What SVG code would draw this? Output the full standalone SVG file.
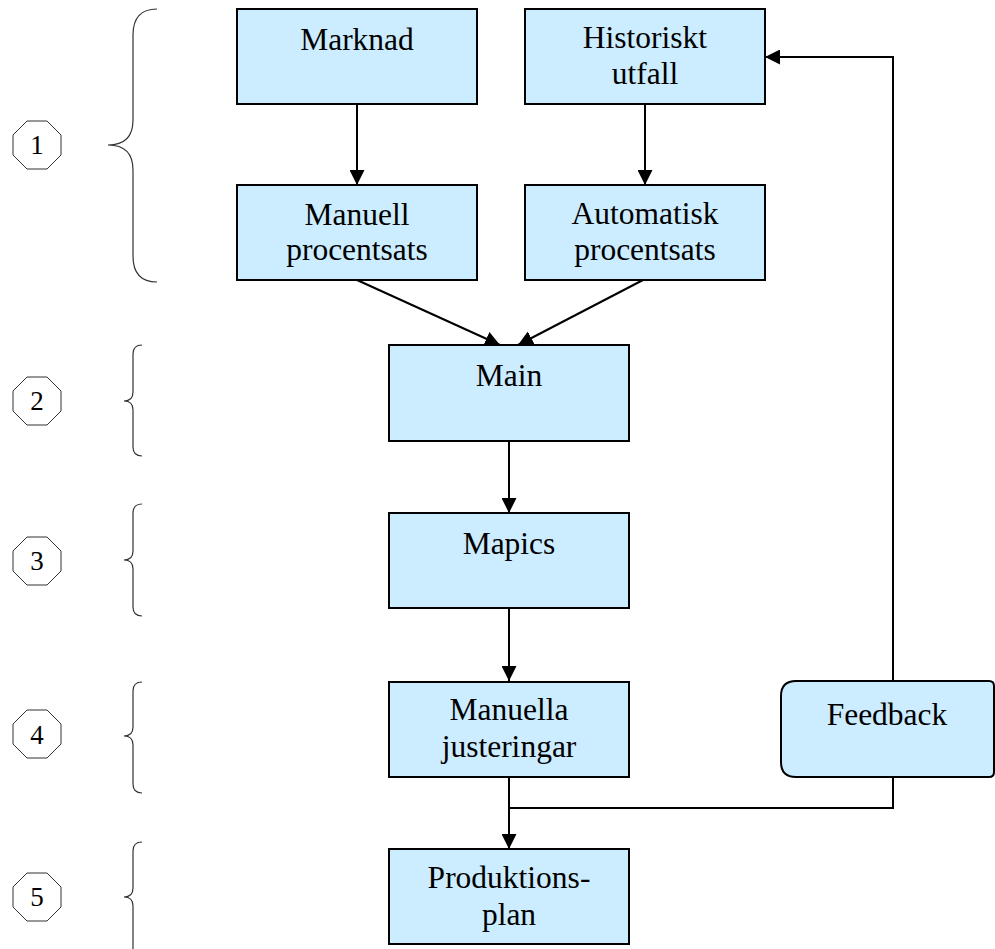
<svg xmlns="http://www.w3.org/2000/svg" width="995" height="949" viewBox="0 0 995 949">
<style>
.box{fill:#CCECFF;stroke:#000;stroke-width:2}
.t{font-family:"Liberation Serif","Times New Roman",serif;font-size:31.5px;fill:#000;text-anchor:middle}
.n{font-family:"Liberation Serif","Times New Roman",serif;font-size:27px;fill:#000;text-anchor:middle}
.oct{fill:#fff;stroke:#333;stroke-width:1}
.brace{fill:none;stroke:#333;stroke-width:1.2}
.c{fill:none;stroke:#000;stroke-width:2}
</style>
<defs>
<marker id="ah" markerUnits="userSpaceOnUse" markerWidth="15" markerHeight="15" refX="15" refY="7.5" orient="auto" viewBox="0 0 15 15">
<path d="M0,0 L15,7.5 L0,15 z" fill="#000"/>
</marker>
</defs>
<rect width="995" height="949" fill="#fff"/>

<g id="labels">
<g id="oct1"><polygon class="oct" points="27,121 47,121 61,135 61,155 47,169 27,169 13,155 13,135"/><text class="n" x="37" y="154">1</text></g>
<g id="oct2"><polygon class="oct" points="27,377 47,377 61,391 61,411 47,425 27,425 13,411 13,391"/><text class="n" x="37" y="410">2</text></g>
<g id="oct3"><polygon class="oct" points="27,537 47,537 61,551 61,571 47,585 27,585 13,571 13,551"/><text class="n" x="37" y="570">3</text></g>
<g id="oct4"><polygon class="oct" points="27,710 47,710 61,724 61,744 47,758 27,758 13,744 13,724"/><text class="n" x="37" y="744">4</text></g>
<g id="oct5"><polygon class="oct" points="27,873 47,873 61,887 61,907 47,921 27,921 13,907 13,887"/><text class="n" x="37" y="906">5</text></g>
</g>

<g id="braces">
<path class="brace" d="M157,9 C140,9 133,18 133,35 L133,120 C133,137 125,145 108,145 C125,145 133,153 133,170 L133,256 C133,273 140,282 157,282"/>
<path class="brace" d="M142,345 C136,345 133,348 133,354 L133,392 C133,398 130,401 124,401 C130,401 133,404 133,410 L133,447 C133,453 136,456 142,456"/>
<path class="brace" d="M142,504 C136,504 133,507 133,513 L133,551 C133,557 130,560 124,560 C130,560 133,563 133,569 L133,607 C133,613 136,616 142,616"/>
<path class="brace" d="M142,682 C136,682 133,685 133,691 L133,727 C133,733 130,736 124,736 C130,736 133,739 133,745 L133,784 C133,790 136,793 142,793"/>
<path class="brace" d="M142,842 C136,842 133,845 133,851 L133,888 C133,894 130,897 124,897 C130,897 133,900 133,906 L133,952"/>
</g>

<g id="connectors">
<line class="c" x1="357" y1="104" x2="357" y2="185" marker-end="url(#ah)"/>
<line class="c" x1="645" y1="104" x2="645" y2="185" marker-end="url(#ah)"/>
<line class="c" x1="357" y1="280" x2="500" y2="345" marker-end="url(#ah)"/>
<line class="c" x1="643" y1="280" x2="518" y2="345" marker-end="url(#ah)"/>
<line class="c" x1="509" y1="441" x2="509" y2="513" marker-end="url(#ah)"/>
<line class="c" x1="509" y1="608" x2="509" y2="681" marker-end="url(#ah)"/>
<line class="c" x1="509" y1="777" x2="509" y2="849" marker-end="url(#ah)"/>
<polyline class="c" points="893,777 893,808 509,808"/>
<polyline class="c" points="893,681 893,57 765,57" marker-end="url(#ah)"/>
</g>

<g id="marknad"><rect class="box" x="237" y="9" width="240" height="95"/><text class="t" x="357" y="50">Marknad</text></g>
<g id="historiskt"><rect class="box" x="525" y="9" width="240" height="95"/><text class="t" x="645" y="48">Historiskt</text><text class="t" x="645" y="84">utfall</text></g>
<g id="manuell"><rect class="box" x="237" y="185" width="240" height="95"/><text class="t" x="357" y="225">Manuell</text><text class="t" x="357" y="260">procentsats</text></g>
<g id="automatisk"><rect class="box" x="525" y="185" width="240" height="95"/><text class="t" x="645" y="224">Automatisk</text><text class="t" x="645" y="260">procentsats</text></g>
<g id="main"><rect class="box" x="389" y="345" width="240" height="96"/><text class="t" x="509" y="386">Main</text></g>
<g id="mapics"><rect class="box" x="389" y="513" width="240" height="95"/><text class="t" x="509" y="554">Mapics</text></g>
<g id="manuella"><rect class="box" x="389" y="682" width="240" height="95"/><text class="t" x="509" y="720">Manuella</text><text class="t" x="509" y="757">justeringar</text></g>
<g id="produktionsplan"><rect class="box" x="389" y="849" width="240" height="95"/><text class="t" x="509" y="888">Produktions-</text><text class="t" x="509" y="925">plan</text></g>
<g id="feedback"><path class="box" d="M796,681 L989,681 Q994,681 994,686 L994,772 Q994,777 989,777 L796,777 Q781,777 781,762 L781,696 Q781,681 796,681 z"/><text class="t" x="887" y="725">Feedback</text></g>
</svg>
